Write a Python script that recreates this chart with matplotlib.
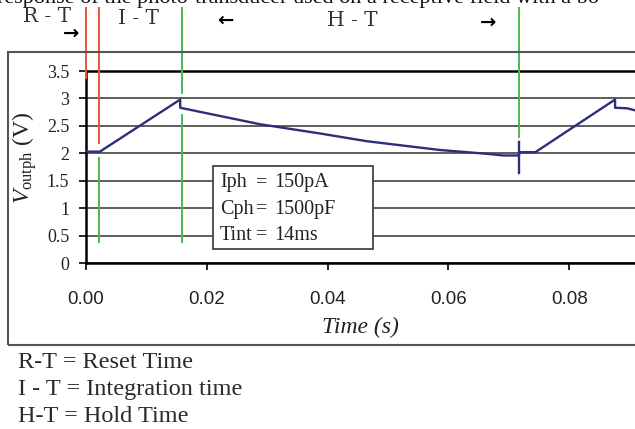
import numpy as np
import matplotlib.pyplot as plt
from matplotlib.patches import Rectangle

plt.rcParams['font.family'] = ['Liberation Serif', 'DejaVu Serif']
plt.rcParams['mathtext.fontset'] = 'custom'
plt.rcParams['mathtext.rm'] = 'Liberation Serif'
plt.rcParams['mathtext.it'] = 'Liberation Serif:italic'

# photodiode output voltage over one reset / integrate / hold cycle and the next one
time = [0.0, 0.0023, 0.0156, 0.0156, 0.0288, 0.0388, 0.0465, 0.0586, 0.0631,
        0.0664, 0.0691, 0.0717, 0.0717, 0.0744, 0.0876, 0.0876, 0.0896, 0.0910]
vout = [2.03, 2.03, 2.98, 2.83, 2.53, 2.36, 2.22, 2.06, 2.02,
        1.99, 1.96, 1.96, 2.02, 2.02, 2.98, 2.83, 2.82, 2.78]
# glitch at the end of the hold phase
spike_t = 0.0717
spike_v = [1.64, 2.20]

# phase boundary markers (time, low V, high V, kind)
marker_t = [0.0, 0.0022, 0.0022, 0.0159, 0.0159, 0.0717]
marker_lo = [3.37, 2.19, 0.38, 3.10, 0.38, 2.30]
marker_hi = [4.65, 4.65, 1.91, 4.65, 2.70, 4.65]
marker_kind = ['reset', 'reset', 'phase', 'phase', 'phase', 'phase']

params = ['Iph', 'Cph', 'Tint']
param_vals = ['150pA', '1500pF', '14ms']
legend_lines = ['R-T = Reset Time', 'I - T = Integration time', 'H-T = Hold Time']

W, H = 635, 429
def fx(px):
    return px / W
def fy(py):
    return 1 - py / H

fig = plt.figure(figsize=(W / 100, H / 100), dpi=100)

# caption line of the page above the chart (mostly cut off)
fig.text(fx(-3), fy(3), 'response of the photo-transducer used on a receptive field with a bo',
         fontsize=16, ha='left', va='baseline', color='#111111')

# frame around the chart
fig.patches.append(Rectangle((fx(8), fy(345)), 1.2, (345 - 52) / H, transform=fig.transFigure,
                             fill=False, edgecolor='#555555', lw=1.5, clip_on=False))

ax = fig.add_axes([fx(86), fy(263), (W - 86) / W, (263 - 71) / H])
ax.set_xlim(0, 0.0909)
ax.set_ylim(0, 3.5)
ax.set_yticks(np.arange(0, 3.51, 0.5))
ax.set_yticklabels(['0', '0.5', '1', '1.5', '2', '2.5', '3', '3.5'], fontsize=13, color='#222222')
ax.set_xticks([0, 0.02, 0.04, 0.06, 0.08])
ax.set_xticklabels(['%.2f' % v for v in [0, 0.02, 0.04, 0.06, 0.08]],
                   fontsize=13.5, family='Liberation Sans', color='#222222')
ax.yaxis.grid(True, color='#333333', lw=1.1)
ax.set_axisbelow(True)
for s in ['left', 'bottom', 'top']:
    ax.spines[s].set_linewidth(1.8)
    ax.spines[s].set_color('black')
ax.spines['right'].set_visible(False)
ax.tick_params(axis='y', direction='out', length=5, width=1.2, pad=7)
ax.tick_params(axis='x', direction='out', length=5, width=1.2, pad=15)

colors = {'reset': '#E8553A', 'phase': '#4DB84D'}
for t, lo, hi, k in zip(marker_t, marker_lo, marker_hi, marker_kind):
    ax.plot([t, t], [lo, hi], color=colors[k], lw=1.4, clip_on=False, zorder=3)

ax.plot(time, vout, color='#2D2E7C', lw=1.7, zorder=4)
ax.plot([spike_t, spike_t], spike_v, color='#2D2E7C', lw=1.7, zorder=4)

# parameter box
fig.patches.append(Rectangle((fx(213), fy(249)), (373 - 213) / W, (249 - 166) / H,
                             transform=fig.transFigure, facecolor='white',
                             edgecolor='#444444', lw=1.3, zorder=2))
for i, (p, v) in enumerate(zip(params, param_vals)):
    y = fy(183 + 26 * i)
    fig.text(fx(220), y, p, fontsize=14.5, va='center', zorder=3, color='#222222')
    fig.text(fx(262), y, '=', fontsize=14.5, va='center', ha='center', zorder=3, color='#222222')
    fig.text(fx(274), y, v, fontsize=14.5, va='center', zorder=3, color='#222222')

fig.text(fx(25), fy(158), r'$V_{\mathrm{outph}}$ (V)', fontsize=17, rotation=90,
         ha='center', va='center', color='#222222')
fig.text(fx(360), fy(327), 'Time (s)', fontsize=17, style='italic', ha='center', va='center',
         color='#222222')

# phase labels above the frame
top_font = dict(family='DejaVu Serif', fontsize=14.5, color='#333333', ha='center', va='center')
fig.text(fx(47), fy(17), 'R - T', **top_font)
fig.text(fx(139), fy(18), 'I - T', **top_font)
fig.text(fx(352), fy(20), 'H - T', **top_font)
arrow_font = dict(family='DejaVu Sans', fontsize=14, weight='bold', ha='center', va='center')
fig.text(fx(71), fy(33), '→', **arrow_font)
fig.text(fx(225), fy(20), '←', **arrow_font)
fig.text(fx(488), fy(22), '→', **arrow_font)

for i, line in enumerate(legend_lines):
    fig.text(fx(18), fy(362 + 27 * i), line, fontsize=17.5, va='center', ha='left',
             color='#2A2A2A')

fig.savefig('out.png', dpi=100)
